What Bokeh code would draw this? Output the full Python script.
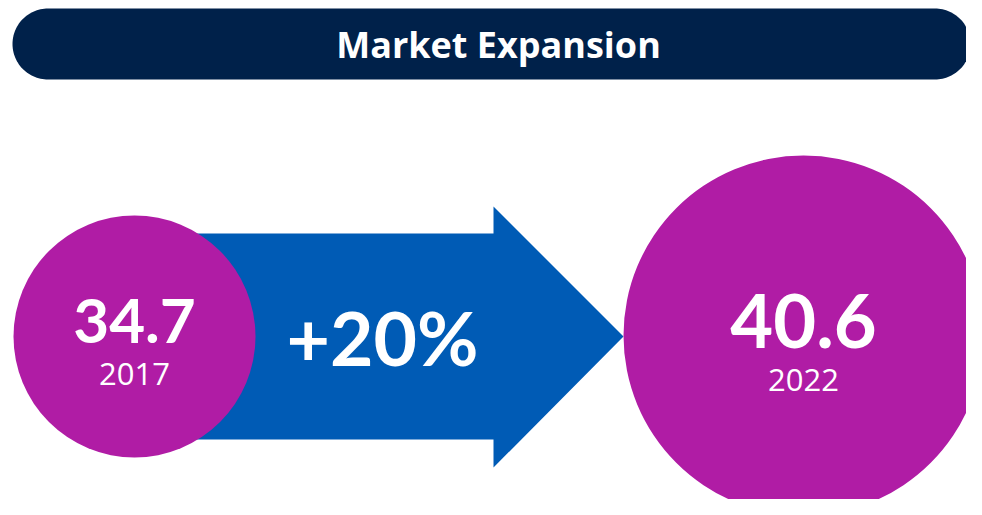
import numpy as np
from bokeh.plotting import figure
from bokeh.models import Range1d, ColumnDataSource
from bokeh.core.properties import value
from bokeh.embed import file_html
from bokeh.resources import INLINE

# ---- data ----
title_text = "Market Expansion"
years = ["2017", "2022"]
values = [34.7, 40.6]
change_label = "+20%"

# ---- layout (screen-like coordinates, y downward) ----
W, H = 966, 499
circle_x = [134, 803]
circle_y = [336, 335]
circle_r = [121, 180]
value_fs = [62, 74]
value_base = [343, 347]
year_base = [385, 391]
SHIFT = 0.36  # baseline compensation (em)

NAVY = "#00214A"
PURPLE = "#B01CA5"
BLUE = "#005BB5"

p = figure(width=W, height=H, output_backend="svg", toolbar_location=None,
           x_range=Range1d(0, W), y_range=Range1d(H, 0),
           min_border=0, outline_line_color=None)
p.axis.visible = False
p.grid.visible = False
p.background_fill_color = "white"
p.border_fill_color = "white"


def label(x, base, txt, fs, font="Open Sans", style="normal"):
    p.text(x=[x], y=[base - SHIFT * fs], text=[txt], text_color="white",
           text_font=value(font), text_font_style=style,
           text_font_size=f"{fs}px", text_align="center",
           text_baseline="alphabetic")


# title pill
x0, x1, y0, y1 = 12, 970, 8, 79
r = (y1 - y0) / 2
cy = (y0 + y1) / 2
t = np.linspace(-np.pi / 2, np.pi / 2, 60)
right_x = x1 - r + r * np.cos(t)
right_y = cy + r * np.sin(t)
left_x = x0 + r - r * np.cos(t)
left_y = cy - r * np.sin(t)
p.patch(np.concatenate([right_x, left_x]), np.concatenate([right_y, left_y]),
        fill_color=NAVY, line_color=None)
label(498, 57, title_text, 36, style="bold")

# arrow
shaft_top, shaft_bot = 233, 439
head_x, head_top, head_bot = 493, 206, 467
tip_x, tip_y = 623, 336
ax = [134, head_x, head_x, tip_x, head_x, head_x, 134]
ay = [shaft_top, shaft_top, head_top, tip_y, head_bot, shaft_bot, shaft_bot]
p.patch(ax, ay, fill_color=BLUE, line_color=None)
label(382, 363, change_label, 75, font="Lato", style="bold")

# circles
src = ColumnDataSource(dict(x=circle_x, y=circle_y, r=circle_r))
p.circle(x="x", y="y", radius="r", source=src, fill_color=PURPLE, line_color=None)

for i in range(2):
    label(circle_x[i], value_base[i], f"{values[i]:.1f}", value_fs[i], font="Lato", style="bold")
    label(circle_x[i], year_base[i], years[i], 31)

open("out.html", "w").write(file_html(p, INLINE))
